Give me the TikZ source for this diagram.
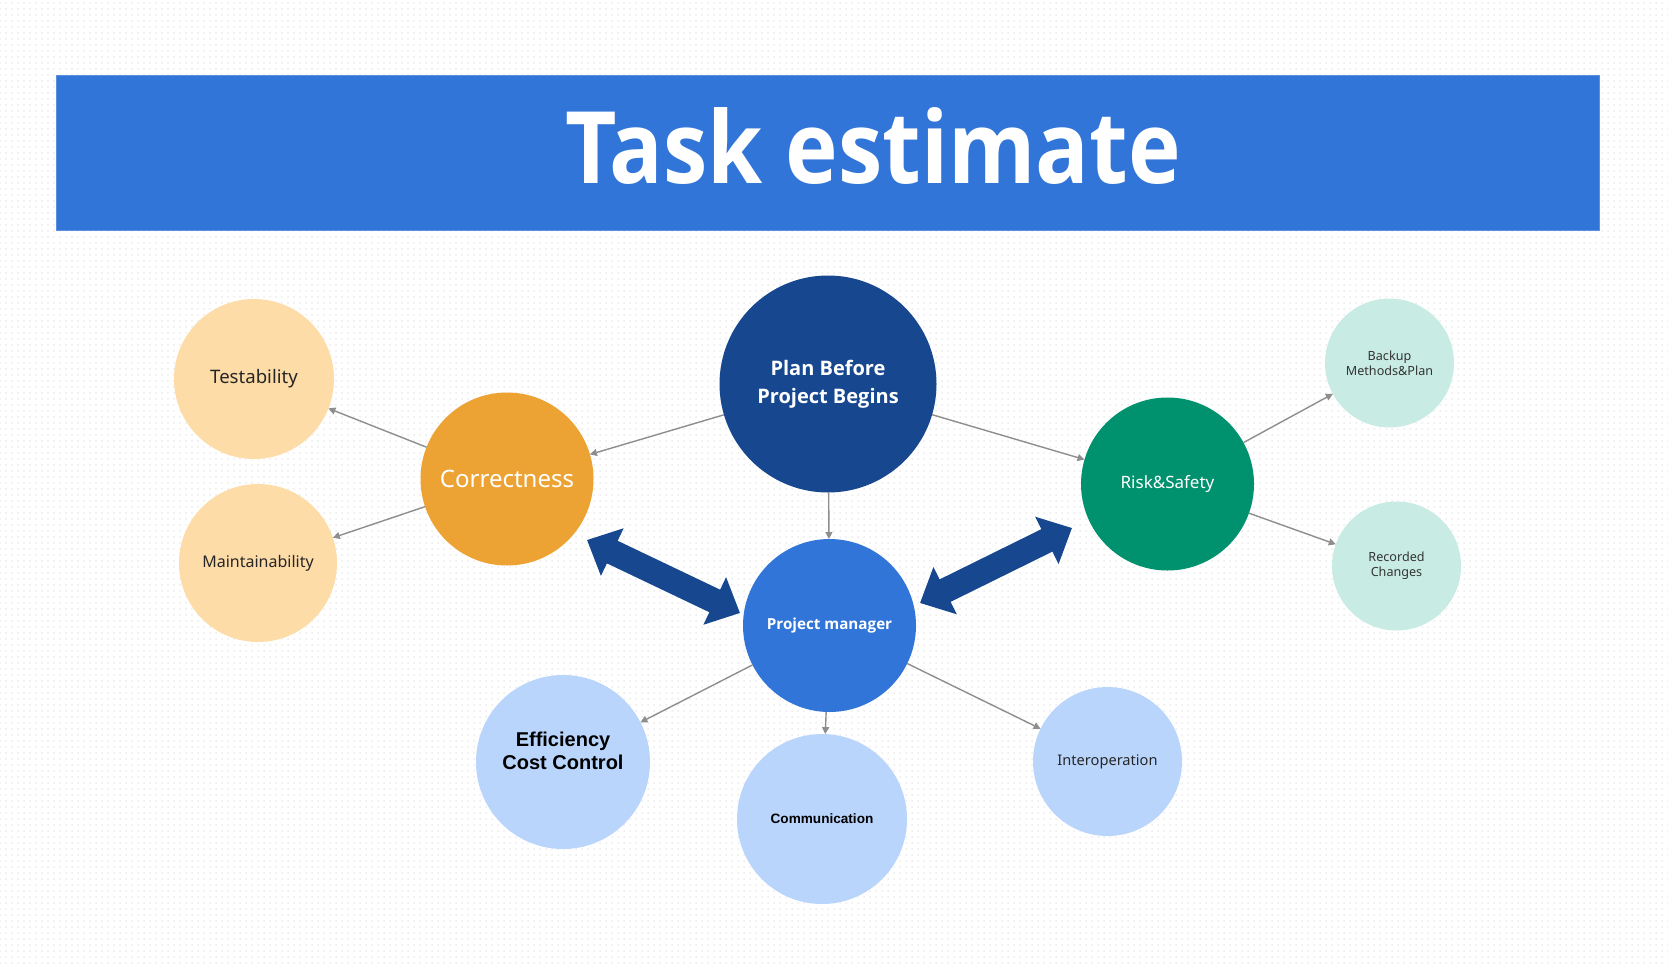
\documentclass[tikz,border=0pt]{standalone}
\usepackage{fontspec}
\setmainfont{Noto Sans}
\newfontfamily\arialfont{Liberation Sans}
\newfontfamily\boldsans{Open Sans}
\newfontfamily\titlefont{Open Sans}[FakeStretch=0.89]
\usetikzlibrary{arrows.meta, patterns}
\definecolor{bannerblue}{HTML}{3275D8}
\definecolor{navy}{HTML}{17478F}
\definecolor{orangemain}{HTML}{EDA334}
\definecolor{orangelight}{HTML}{FDDCA8}
\definecolor{greenmain}{HTML}{00916E}
\definecolor{greenlight}{HTML}{C8ECE3}
\definecolor{bluelight}{HTML}{BAD5FC}
\definecolor{linegray}{HTML}{8E8E8E}
\tikzset{
  bubble/.style={circle, inner sep=0pt, outer sep=0pt, align=center, minimum size=#1},
  link/.style={draw=linegray, line width=0.7pt, -{Triangle[length=3.5pt,width=3.5pt]}},
  bigarrow/.style={draw=navy, line width=12.5pt, {Triangle[width=25.5pt,length=14pt]}-{Triangle[width=25.5pt,length=14pt]}},
}

\begin{document}
\begin{tikzpicture}[x=0.5pt, y=-0.5pt]
        % Page and dotted background
        \useasboundingbox (0,0) rectangle (1668,963);
        \fill[white] (0,0) rectangle (1668,963);
        \fill[pattern=dots, pattern color=black!8] (0,0) rectangle (1668,963);
        % Draw the title banner
        \fill[bannerblue, draw=bannerblue!80!white, line width=0.5pt] (56,76) rectangle (1599,230);
        \node[anchor=base, text=white, font=\titlefont\bfseries\fontsize{50}{60}\selectfont] (title) at (873,183) {Task estimate};

        % Draw the main bubbles
        \node[bubble=108.5pt, fill=navy, text=white, font=\boldsans\bfseries\fontsize{10}{13.8}\selectfont] (plan) at (828,384) {Plan Before\\Project Begins};
        \node[bubble=86.5pt, fill=orangemain, text=white, font=\fontsize{12}{14}\selectfont] (corr) at (507,479) {Correctness};
        \node[bubble=86.5pt, fill=greenmain, text=white, font=\fontsize{8.5}{10}\selectfont] (risk) at (1167.5,484) {Risk\&Safety};
        \node[bubble=86.5pt, fill=bannerblue, text=white, font=\boldsans\bfseries\fontsize{7.6}{9}\selectfont] (pm) at (829.5,625.5) {Project manager};
        % Draw the bubbles of Correctness
        \node[bubble=80pt, fill=orangelight, text=black!85, font=\fontsize{9.3}{11}\selectfont] (test) at (254,379) {Testability};
        \node[bubble=79pt, fill=orangelight, text=black!85, font=\fontsize{8}{10}\selectfont] (maint) at (258,563) {Maintainability};
        % Draw the bubbles of Risk&Safety
        \node[bubble=64.5pt, fill=greenlight, text=black!80, font=\fontsize{6.3}{7.5}\selectfont] (backup) at (1389.5,363) {Backup\\Methods\&Plan};
        \node[bubble=64.5pt, fill=greenlight, text=black!80, font=\fontsize{6.3}{7.5}\selectfont] (recorded) at (1396.5,566) {Recorded\\Changes};
        % Draw the bubbles of Project manager
        \node[bubble=87pt, fill=bluelight, label={[align=center, yshift=5.5pt, font=\arialfont\bfseries\fontsize{10}{11.7}\selectfont]center:Efficiency\\Cost Control}] (eff) at (563,762) {};
        \node[bubble=85pt, fill=bluelight, font=\arialfont\bfseries\fontsize{6.8}{8}\selectfont] (comm) at (822,819) {Communication};
        \node[bubble=74.5pt, fill=bluelight, text=black!85, font=\fontsize{7.3}{9}\selectfont] (interop) at (1107.5,761.5) {Interoperation};

        % Draw the thin links
        \draw[link] (plan) -- (corr);
        \draw[link] (plan) -- (risk);
        \draw[link] (plan) -- (pm);
        \draw[link] (corr) -- (test);
        \draw[link] (corr) -- (maint);
        \draw[link] (risk) -- (backup);
        \draw[link] (risk) -- (recorded);
        \draw[link] (pm) -- (eff);
        \draw[link] (pm) -- (comm);
        \draw[link] (pm) -- (interop);

        % Draw the two big double arrows
        \coordinate (corr tip) at (587,540);
        \coordinate (pm tip left) at (740,613);
        \coordinate (pm tip right) at (920,603);
        \coordinate (risk tip) at (1072,528);
        \draw[bigarrow] (corr tip) -- (pm tip left);
        \draw[bigarrow] (pm tip right) -- (risk tip);
    \end{tikzpicture}
\end{document}
